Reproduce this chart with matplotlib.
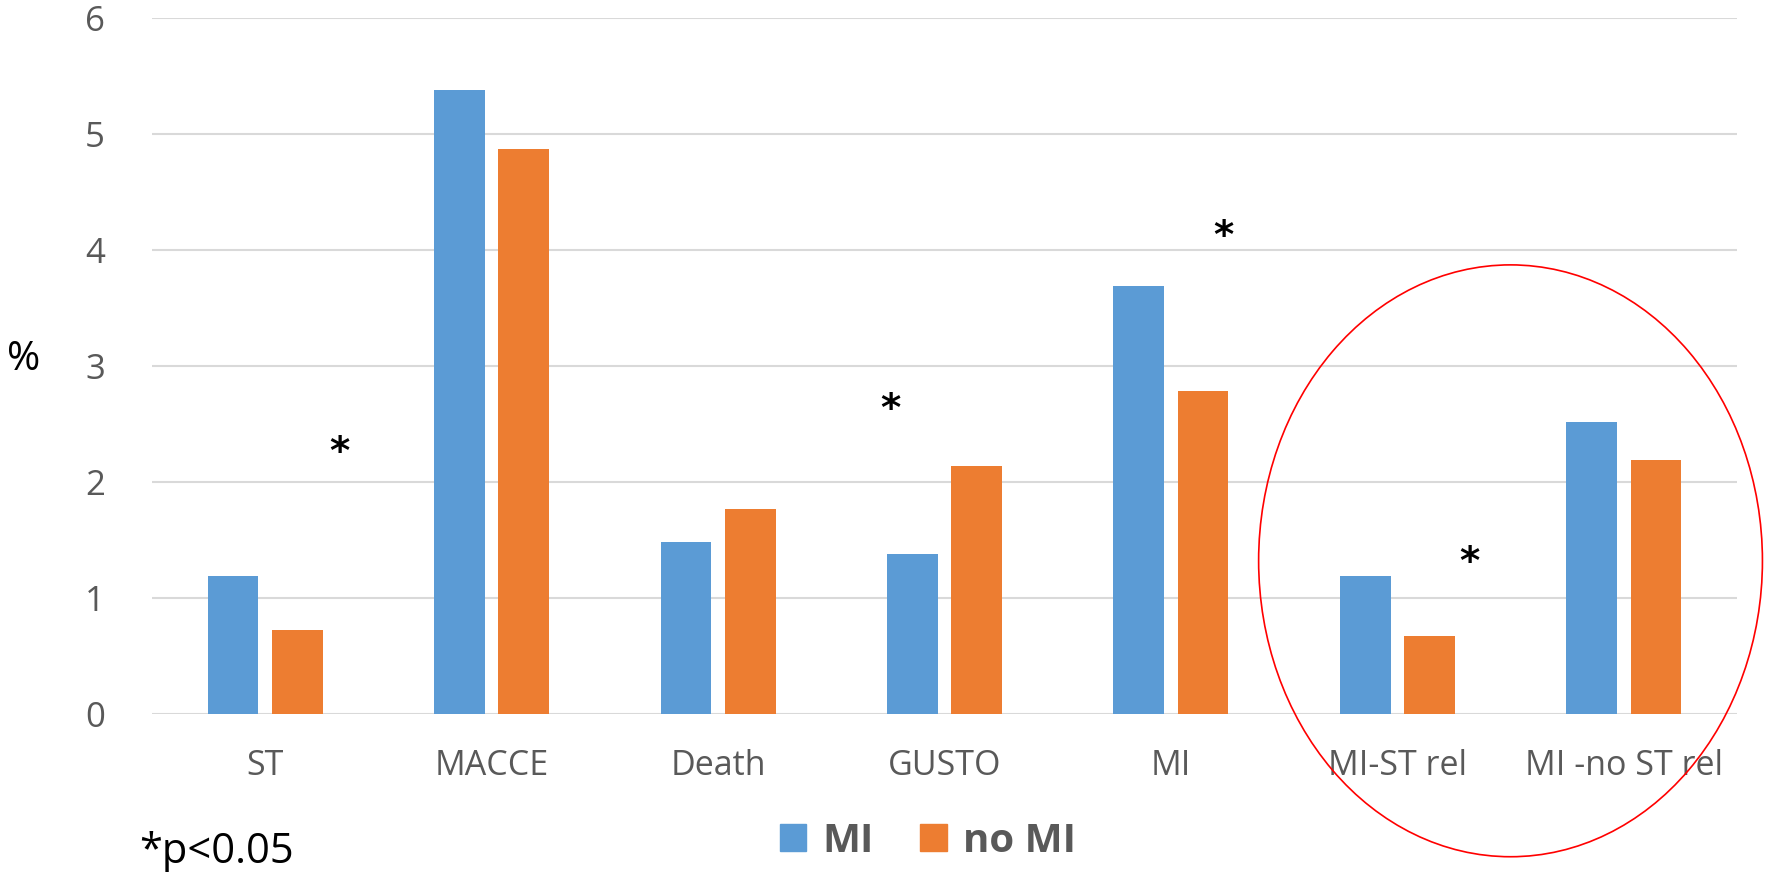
import numpy as np
import matplotlib.pyplot as plt
from matplotlib.patches import Patch, Ellipse

# outcome rates (%) by group
categories = ['ST', 'MACCE', 'Death', 'GUSTO', 'MI', 'MI-ST rel', 'MI -no ST rel']
mi_values = [1.19, 5.38, 1.48, 1.38, 3.69, 1.19, 2.52]
no_mi_values = [0.72, 4.87, 1.77, 2.14, 2.78, 0.67, 2.19]

# significance markers (x in category units, y in %)
star_x = [0.33, 2.76, 4.23, 5.32]
star_y = [2.25, 2.62, 4.11, 1.30]

blue = '#5b9bd5'
orange = '#ed7d31'
grey_text = '#595959'

plt.rcParams['font.family'] = ['Open Sans', 'DejaVu Sans']

fig = plt.figure(figsize=(17.67, 8.72), dpi=100)
ax = fig.add_axes([0.0860, 0.1812, 0.8970, 0.7985])

x = np.arange(len(categories))
w = 0.224
ax.bar(x - 0.142, mi_values, width=w, color=blue, zorder=3)
ax.bar(x + 0.142, no_mi_values, width=w, color=orange, zorder=3)

ax.set_xlim(-0.5, len(categories) - 0.5)
ax.set_ylim(0, 6)
ax.set_yticks(range(7))
ax.yaxis.grid(True, color='#d9d9d9', linewidth=1.5, zorder=0)
ax.set_axisbelow(True)
for s in ax.spines.values():
    s.set_visible(False)

ax.set_xticks(x)
ax.set_xticklabels(categories)
ax.tick_params(axis='x', length=0, pad=25, labelsize=24.5, labelcolor=grey_text)
ax.tick_params(axis='y', length=0, pad=34, labelsize=25, labelcolor=grey_text)

for sx, sy in zip(star_x, star_y):
    ax.text(sx, sy, '*', fontsize=28, fontweight='bold', ha='center', va='center',
            color='black', family='DejaVu Sans')

# highlight the two MI subgroups
ring = Ellipse((5.50, 1.32), width=2.225, height=5.10, fill=False,
               edgecolor='red', linewidth=1.2, clip_on=False, zorder=5)
ax.add_patch(ring)

fig.text(0.004, 0.588, '%', fontsize=29, color='black', va='center', ha='left')
fig.text(0.079, 0.0103, '*p<0.05', fontsize=30, color='black', ha='left', va='baseline')

handles = [Patch(color=blue, label='MI'), Patch(color=orange, label='no MI')]
leg = fig.legend(handles=handles, loc='center', bbox_to_anchor=(0.525, 0.035),
                 ncol=2, frameon=False, handlelength=0.66, handleheight=0.66,
                 handletextpad=0.4, columnspacing=1.15,
                 prop={'size': 29, 'weight': 'bold'})
for t in leg.get_texts():
    t.set_color(grey_text)

fig.savefig('out.png', dpi=100)
